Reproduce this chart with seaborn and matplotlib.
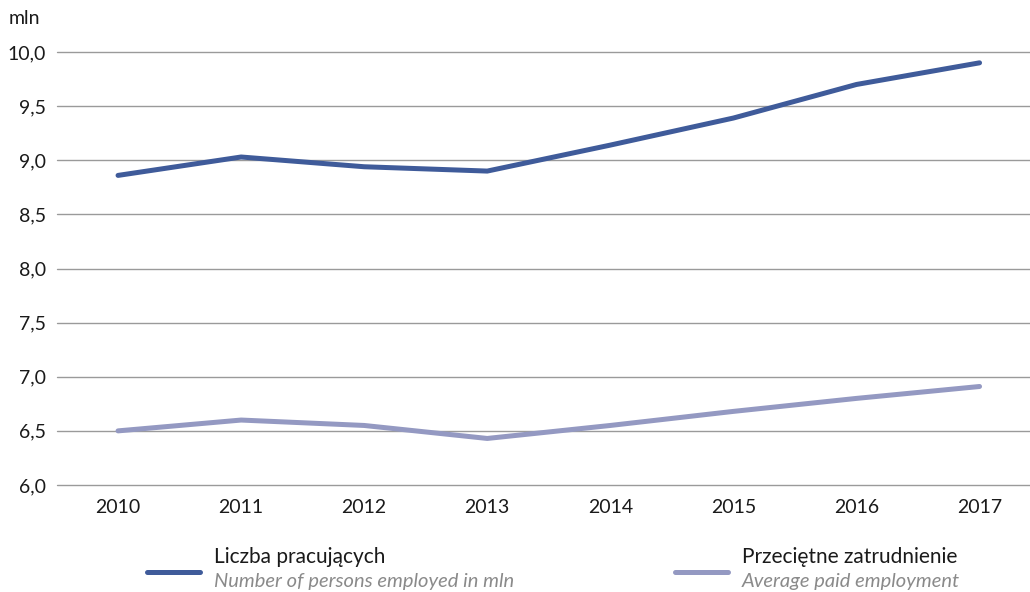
import numpy as np
import pandas as pd
import matplotlib.pyplot as plt
from matplotlib.lines import Line2D
import seaborn as sns

sns.set_style("white")
plt.rcParams['font.family'] = ['Lato', 'DejaVu Sans']

years = [2010, 2011, 2012, 2013, 2014, 2015, 2016, 2017]
employed = [8.86, 9.03, 8.94, 8.90, 9.14, 9.39, 9.70, 9.90]
paid = [6.50, 6.60, 6.55, 6.43, 6.55, 6.68, 6.80, 6.91]
yticks = [6.0, 6.5, 7.0, 7.5, 8.0, 8.5, 9.0, 9.5, 10.0]

names = ["Liczba pracujących", "Przeciętne zatrudnienie"]
names_en = ["Number of persons employed in mln", "Average paid employment"]
colors = ["#3f5b9a", "#9499c2"]

df = pd.DataFrame({
    "year": years * 2,
    "value": employed + paid,
    "series": [names[0]] * len(years) + [names[1]] * len(years),
})

fig = plt.figure(figsize=(10.3, 5.92), dpi=100)
ax = fig.add_axes([57 / 1030, 1 - 485 / 592, 1 - 57 / 1030, (485 - 52) / 592])

sns.lineplot(data=df, x="year", y="value", hue="series", palette=colors,
             linewidth=3.6, legend=False, ax=ax, solid_capstyle="round")

ax.set_ylim(6.0, 10.0)
ax.set_xlim(2009.504, 2017.41)
ax.set_yticks(yticks)
ax.set_yticklabels([f"{v:.1f}".replace(".", ",") for v in yticks])
ax.set_xticks(years)
ax.set_xticklabels([str(y) for y in years])
ax.yaxis.grid(True, color="#9a9a9a", linewidth=1.0)
for gl in ax.get_ygridlines():
    gl.set_clip_on(False)
ax.set_axisbelow(True)
for s in ax.spines.values():
    s.set_visible(False)
ax.tick_params(axis="both", length=0, labelsize=14, colors="#1a1a1a")
ax.tick_params(axis="y", pad=8)
ax.tick_params(axis="x", pad=10)
ax.set_xlabel("")
ax.set_ylabel("")

fig.text(9 / 1030, 1 - 18 / 592, "mln", fontsize=14, color="#1a1a1a", va="center")

# legend
for i, x0 in enumerate([147, 675]):
    fig.add_artist(Line2D([x0 / 1030, (x0 + 53) / 1030], [1 - 572 / 592] * 2,
                          color=colors[i], linewidth=3.6, solid_capstyle="round"))
    fig.text((x0 + 67) / 1030, 1 - 557 / 592, names[i], fontsize=15,
             color="#1a1a1a", va="center")
    fig.text((x0 + 67) / 1030, 1 - 581 / 592, names_en[i], fontsize=14.5,
             color="#8a8a8a", style="italic", va="center")

fig.savefig("out.png", dpi=100)
